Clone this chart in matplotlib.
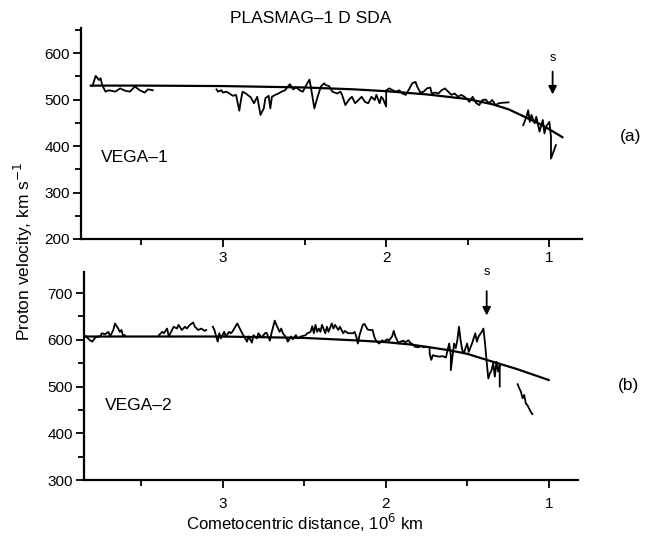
import matplotlib
matplotlib.use("Agg")
import matplotlib.pyplot as plt
from matplotlib.ticker import MultipleLocator

plt.rcParams['font.family'] = ['Liberation Sans', 'DejaVu Sans']

# VEGA-1 proton velocity trace, (distance 10^6 km, velocity km/s)
vega1_a = [(3.80, 529), (3.78, 551), (3.76, 542), (3.75, 546), (3.74, 531), (3.72, 517),
           (3.70, 520), (3.66, 517), (3.63, 524), (3.60, 519), (3.57, 517), (3.54, 528),
           (3.51, 520), (3.48, 515), (3.46, 522), (3.43, 520)]
vega1_b = [(3.04, 522), (3.03, 517), (3.01, 520), (3.00, 515), (2.98, 517), (2.96, 513),
           (2.94, 508), (2.92, 510), (2.90, 476), (2.89, 499), (2.88, 517), (2.86, 513),
           (2.83, 505), (2.81, 492), (2.79, 506), (2.77, 467), (2.75, 481), (2.74, 503),
           (2.72, 508), (2.71, 481), (2.70, 506), (2.68, 510), (2.66, 513), (2.64, 517),
           (2.62, 520), (2.60, 529), (2.59, 533), (2.57, 522), (2.55, 526), (2.53, 520),
           (2.51, 517), (2.49, 531), (2.47, 543), (2.46, 524), (2.44, 481), (2.42, 506),
           (2.40, 528), (2.38, 535), (2.37, 531), (2.35, 529), (2.33, 517), (2.30, 513),
           (2.28, 517), (2.27, 510), (2.25, 488), (2.23, 499), (2.21, 506), (2.19, 492),
           (2.17, 499), (2.15, 506), (2.13, 495), (2.11, 492), (2.09, 506), (2.07, 499),
           (2.06, 510), (2.04, 492), (2.03, 506), (2.02, 502), (2.00, 485), (2.00, 520),
           (1.98, 524), (1.96, 520), (1.94, 517), (1.92, 520), (1.90, 513), (1.88, 510),
           (1.86, 522), (1.84, 535), (1.82, 538), (1.81, 528), (1.79, 515), (1.77, 517),
           (1.75, 524), (1.73, 526), (1.72, 513), (1.70, 515), (1.68, 513), (1.66, 520),
           (1.64, 524), (1.62, 517), (1.60, 510), (1.58, 513), (1.56, 506), (1.54, 510),
           (1.52, 506), (1.50, 499), (1.49, 495), (1.47, 506), (1.45, 493), (1.43, 488),
           (1.41, 499), (1.39, 500), (1.37, 492), (1.35, 499), (1.33, 488), (1.31, 492),
           (1.29, 493), (1.25, 494)]
vega1_c = [(1.16, 445), (1.14, 463), (1.13, 477), (1.12, 452), (1.11, 467), (1.09, 449),
           (1.08, 463), (1.06, 431), (1.04, 456), (1.03, 427), (1.02, 442), (1.00, 452),
           (0.99, 420), (0.99, 373), (0.96, 402)]
vega1_fit_d = [3.81, 3.5, 3.0, 2.5, 2.2, 2.0, 1.75, 1.5, 1.35, 1.25, 1.14, 1.05, 1.0, 0.92]
vega1_fit_v = [530, 530, 529, 526, 522, 518, 511, 501, 490, 479, 461, 446, 436, 419]

# VEGA-2 proton velocity trace
vega2_a = [(3.85, 610), (3.84, 608), (3.82, 601), (3.80, 596), (3.78, 605), (3.75, 608),
           (3.74, 614), (3.72, 612), (3.70, 617), (3.69, 607), (3.67, 621), (3.66, 635),
           (3.64, 624), (3.63, 617), (3.62, 621), (3.61, 608), (3.60, 610)]
vega2_b = [(3.39, 610), (3.37, 617), (3.36, 614), (3.34, 624), (3.33, 607), (3.31, 621),
           (3.30, 628), (3.28, 624), (3.27, 632), (3.25, 621), (3.23, 628), (3.22, 624),
           (3.20, 632), (3.18, 637), (3.17, 628), (3.15, 621), (3.13, 624), (3.11, 619),
           (3.10, 621)]
vega2_c = [(3.06, 628), (3.05, 621), (3.03, 596), (3.02, 614), (3.01, 603), (2.99, 617),
           (2.98, 607), (2.96, 617), (2.95, 614), (2.94, 617), (2.91, 635), (2.89, 621),
           (2.87, 608), (2.85, 596), (2.84, 607), (2.82, 594), (2.81, 610), (2.79, 603),
           (2.78, 614), (2.76, 605), (2.74, 614), (2.73, 615), (2.71, 598), (2.70, 614),
           (2.68, 641), (2.67, 632), (2.65, 617), (2.64, 624), (2.63, 614), (2.61, 605),
           (2.60, 596), (2.58, 607), (2.57, 601), (2.55, 610), (2.54, 603), (2.52, 607),
           (2.51, 608), (2.49, 610), (2.48, 614), (2.46, 617), (2.45, 629), (2.44, 614),
           (2.43, 632), (2.42, 617), (2.41, 624), (2.40, 617), (2.39, 632), (2.37, 614),
           (2.36, 628), (2.35, 617), (2.33, 635), (2.32, 624), (2.31, 632), (2.29, 621),
           (2.28, 628), (2.26, 614), (2.25, 619), (2.23, 614), (2.20, 614), (2.19, 617),
           (2.18, 607), (2.17, 592), (2.16, 610), (2.14, 632), (2.13, 634), (2.11, 622),
           (2.10, 621), (2.08, 621), (2.07, 607), (2.06, 599), (2.04, 592), (2.02, 599),
           (2.01, 596), (1.99, 601), (1.98, 598), (1.96, 607), (1.95, 619), (1.94, 607),
           (1.92, 592), (1.91, 596), (1.89, 598), (1.88, 594), (1.86, 599), (1.85, 594),
           (1.83, 589), (1.82, 585), (1.80, 584), (1.78, 587), (1.77, 584), (1.75, 585),
           (1.73, 584), (1.73, 571), (1.72, 557), (1.71, 567), (1.69, 565), (1.67, 564),
           (1.65, 565), (1.63, 562), (1.62, 578), (1.61, 592), (1.60, 567), (1.60, 535),
           (1.58, 592), (1.57, 582), (1.56, 599), (1.55, 628), (1.54, 599), (1.53, 578),
           (1.52, 571), (1.51, 582), (1.50, 592), (1.49, 574), (1.47, 592), (1.46, 603),
           (1.45, 614), (1.44, 596), (1.43, 607), (1.41, 617), (1.40, 624), (1.39, 592),
           (1.38, 553), (1.37, 517), (1.36, 528), (1.35, 535), (1.34, 550), (1.33, 521),
           (1.32, 553), (1.31, 532), (1.30, 546), (1.30, 500)]
vega2_d = [(1.19, 505), (1.18, 496), (1.17, 489), (1.16, 475), (1.15, 482), (1.14, 464),
           (1.13, 460), (1.11, 446), (1.10, 441)]
vega2_fit_d = [3.85, 3.5, 3.0, 2.5, 2.2, 2.0, 1.85, 1.73, 1.6, 1.5, 1.38, 1.2, 1.1, 1.0]
vega2_fit_v = [607, 607, 607, 604, 599, 595, 590, 584, 577, 570, 557, 538, 526, 514]

# shock positions (distance, arrow top, arrow tip)
shock1 = (0.98, 566, 505)
shock2 = (1.38, 710, 646)

x_major = [3, 2, 1]


def style_axis(ax, ymajor, labelpad_x):
    for side in ['top', 'right']:
        ax.spines[side].set_visible(False)
    for side in ['left', 'bottom']:
        ax.spines[side].set_linewidth(1.6)
    ax.xaxis.set_major_locator(MultipleLocator(1))
    ax.xaxis.set_minor_locator(MultipleLocator(0.5))
    ax.yaxis.set_major_locator(MultipleLocator(ymajor))
    ax.yaxis.set_minor_locator(MultipleLocator(ymajor / 2))
    ax.tick_params(which='both', direction='out', width=1.3, labelsize=11)
    ax.tick_params(which='major', length=6, pad=2)
    ax.tick_params(which='minor', length=4)
    ax.tick_params(axis='x', which='major', pad=labelpad_x)


def draw_trace(ax, seg):
    d = [p[0] for p in seg]
    v = [p[1] for p in seg]
    ax.plot(d, v, color='black', lw=1.3)


fig = plt.figure(figsize=(6.45, 5.38), dpi=100)

ax1 = fig.add_axes([0.1256, 0.5558, 0.7767, 0.3922])
ax1.set_xlim(3.87, 0.80)
ax1.set_ylim(200, 654)
for seg in [vega1_a, vega1_b, vega1_c]:
    draw_trace(ax1, seg)
ax1.plot(vega1_fit_d, vega1_fit_v, color='black', lw=1.6)
style_axis(ax1, 100, 3)
ax1.set_xticks(x_major)
ax1.set_xticklabels(['3', '2', '1'])
ax1.text(3.75, 376, 'VEGA–1', fontsize=12.5, ha='left', va='center')
ax1.annotate('', xy=(shock1[0], shock1[2]), xytext=(shock1[0], shock1[1]),
             arrowprops=dict(arrowstyle='-|>', color='black', lw=1.3, mutation_scale=12))
ax1.text(shock1[0], 590, 's', fontsize=9, ha='center', va='center')

ax2 = fig.add_axes([0.1302, 0.1078, 0.7659, 0.3866])
ax2.set_xlim(3.85, 0.82)
ax2.set_ylim(300, 745)
for seg in [vega2_a, vega2_b, vega2_c, vega2_d]:
    draw_trace(ax2, seg)
ax2.plot(vega2_fit_d, vega2_fit_v, color='black', lw=1.6)
style_axis(ax2, 100, 6)
ax2.set_xticks(x_major)
ax2.set_xticklabels(['3', '2', '1'])
ax2.text(3.72, 460, 'VEGA–2', fontsize=12.5, ha='left', va='center')
ax2.annotate('', xy=(shock2[0], shock2[2]), xytext=(shock2[0], shock2[1]),
             arrowprops=dict(arrowstyle='-|>', color='black', lw=1.3, mutation_scale=12))
ax2.text(shock2[0], 745, 's', fontsize=9, ha='center', va='center')

fig.text(0.481, 0.965, 'PLASMAG–1 D SDA', fontsize=12.5, ha='center', va='center')
fig.text(0.037, 0.533, 'Proton velocity, km s$^{-1}$', fontsize=12.5, rotation=90,
         ha='center', va='center')
fig.text(0.473, 0.028, 'Cometocentric distance, 10$^6$ km', fontsize=12,
         ha='center', va='center')
fig.text(0.978, 0.747, '(a)', fontsize=12.5, ha='center', va='center')
fig.text(0.975, 0.283, '(b)', fontsize=12.5, ha='center', va='center')

fig.savefig('out.png', dpi=100)
